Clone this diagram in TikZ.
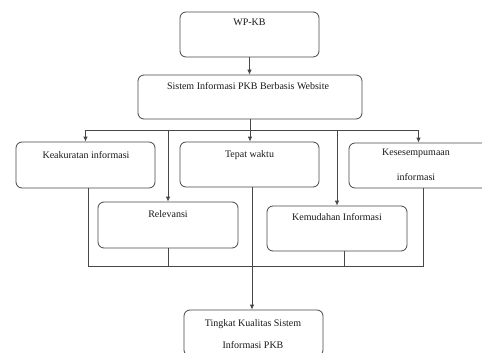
\documentclass[tikz,border=0pt]{standalone}
\usepackage{fontspec}
\setmainfont{Liberation Serif}
\usetikzlibrary{arrows.meta,calc}
\begin{document}
\begin{tikzpicture}[x=1pt,y=-1pt,
  box/.style={draw=black!72, line width=0.8pt, rounded corners=6pt, inner sep=0pt},
  txt/.style={anchor=base, inner sep=0pt, font=\fontsize{10}{12}\selectfont, text=black!90},
  conn/.style={draw=black!72, line width=0.8pt},
  arr/.style={conn, -{Latex[length=5pt,width=4.5pt]}}]
\useasboundingbox (0,0) rectangle (482,353);
\clip (0,0) rectangle (482,353);
\fill[white] (0,0) rectangle (482,353);
% boxes
\node[box, minimum width=139, minimum height=45] (wpkb) at (249.5,34.5) {};
\node[box, minimum width=224, minimum height=44] (sis) at (250,97) {};
\node[box, minimum width=139, minimum height=46] (kea) at (85.5,165) {};
\node[box, minimum width=139, minimum height=45] (tep) at (249.5,164.5) {};
\node[box, minimum width=139, minimum height=45] (kes) at (418.5,165.5) {};
\node[box, minimum width=140, minimum height=46] (rel) at (168,225) {};
\node[box, minimum width=140, minimum height=45] (kem) at (337,228.5) {};
\node[box, minimum width=139, minimum height=46] (tin) at (253.5,333) {};
% texts
\node[txt] (t-wpkb) at (249.5,26) {WP-KB};
\node[txt] (t-sis) at (248,89) {Sistem Informasi PKB Berbasis Website};
\node[txt] (t-kea) at (86,158) {Keakuratan informasi};
\node[txt] (t-tep) at (249.5,157) {Tepat waktu};
\node[txt] (t-kes1) at (416,155.5) {Kesesempumaan};
\node[txt] (t-kes2) at (416,180) {informasi};
\node[txt] (t-rel) at (168,217) {Relevansi};
\node[txt] (t-kem) at (337,220) {Kemudahan Informasi};
\node[txt] (t-tin1) at (253,326) {Tingkat Kualitas Sistem};
\node[txt] (t-tin2) at (253,348) {Informasi PKB};
% top connectors
\coordinate (hub) at (251,130);
\coordinate (bus) at (251,266);
\draw[arr] (wpkb.south) -- (wpkb.south |- sis.north);
\draw[conn] (kea.north |- hub) -- (kes.north |- hub);
\draw[arr] (sis.south) -- (sis.south |- tep.north);
\draw[arr] (kea.north |- hub) -- (kea.north);
\draw[arr] (rel.north |- hub) -- (rel.north);
\draw[arr] (kem.north |- hub) -- (kem.north);
\draw[arr] (kes.north |- hub) -- (kes.north);
% bottom connectors
\draw[conn] ([xshift=2.5pt]kea.south) |- ([xshift=5pt]kes.south |- bus) -- ([xshift=5pt]kes.south);
\draw[conn] (rel.south) -- (rel.south |- bus);
\draw[conn] ([xshift=7pt]kem.south) -- ([xshift=7pt]kem.south |- bus);
\draw[arr] ([xshift=2.5pt]tep.south) -- ([xshift=2.5pt]tep.south |- tin.north);
\end{tikzpicture}
\end{document}
